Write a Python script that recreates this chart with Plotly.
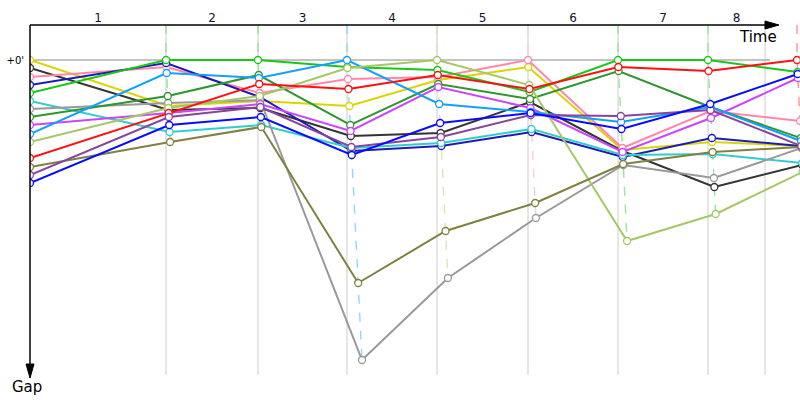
import plotly.graph_objects as go

# ---------------- data ----------------
# leader's elapsed time (s) at each lap passage
lap_times = [0, 2720, 4560, 6340, 8140, 9960, 11760, 13560, 15340]
now_time = 14700
lap_labels = ["1", "2", "3", "4", "5", "6", "7", "8"]

# gap to leader (s) at each lap passage
gap_yellow      = [0, 46, 41, 46, 20, 7, 90, 82, 86]
gap_black       = [8, 50, 48, 76, 73, 42, 91, 127, 105]
gap_pink        = [17, 7, 33, 19, 17, 0, 88, 51, 61]
gap_navy        = [25, 3, 37, 91, 86, 72, 97, 78, 86]
gap_green       = [33, 0, 0, 7, 10, 32, 0, 0, 12]
gap_teal        = [41, 72, 65, 88, 83, 69, 95, 94, 103]
gap_gray        = [49, 43, 40, 300, 218, 158, 105, 118, 88]
gap_forest      = [57, 36, 15, 65, 24, 39, 11, 47, 78]
gap_violet      = [65, 53, 44, 71, 27, 48, 92, 58, 18]
gap_lightblue   = [74, 13, 18, 0, 44, 52, 62, 47, 81]
gap_yellowgreen = [82, 48, 36, 8, 0, 25, 181, 154, 112]
gap_red         = [98, 53, 24, 29, 15, 29, 7, 11, 0]
gap_olive       = [107, 82, 67, 223, 171, 143, 104, 92, 87]
gap_purple      = [115, 57, 47, 87, 77, 55, 56, 50, 86]
gap_blue        = [123, 65, 57, 95, 63, 53, 69, 44, 14]

series = [
    ("Yellow", "#dcd400", gap_yellow),
    ("Black", "#333333", gap_black),
    ("Pink", "#ff88aa", gap_pink),
    ("Navy", "#1c1cb4", gap_navy),
    ("Green", "#18c818", gap_green),
    ("Teal", "#33cccc", gap_teal),
    ("Gray", "#999999", gap_gray),
    ("Forest", "#2e962e", gap_forest),
    ("Violet", "#cc44ff", gap_violet),
    ("LightBlue", "#11a0ff", gap_lightblue),
    ("YellowGreen", "#a4c864", gap_yellowgreen),
    ("Red", "#ff1010", gap_red),
    ("Olive", "#808040", gap_olive),
    ("Purple", "#88449c", gap_purple),
    ("Blue", "#0a0aff", gap_blue),
]


def lighten(hexcol, f=0.6):
    h = hexcol.lstrip("#")
    r, g, b = int(h[0:2], 16), int(h[2:4], 16), int(h[4:6], 16)
    r = int(r + (255 - r) * f)
    g = int(g + (255 - g) * f)
    b = int(b + (255 - b) * f)
    return f"rgb({r},{g},{b})"


def xs_of(gaps):
    return [lap_times[i] + (g if i > 0 else 0) for i, g in enumerate(gaps)]


X_MAX = 15400
Y_TOP = -35
Y_BOT = 315

fig = go.Figure()

# dashed "lap passage" lines in the (faded) colour of the leader
for i in range(1, len(lap_times)):
    col_gaps = [(s[2][i], s[1]) for s in series]
    leader_col = min(col_gaps, key=lambda t: t[0])[1]
    maxgap = max(t[0] for t in col_gaps)
    fig.add_trace(go.Scatter(
        x=[lap_times[i], lap_times[i], lap_times[i] + maxgap],
        y=[Y_TOP, 0, maxgap],
        mode="lines",
        line=dict(color=lighten(leader_col, 0.55), width=1.4, dash="dash"),
        hoverinfo="skip", showlegend=False,
    ))

for name, col, gaps in series:
    fig.add_trace(go.Scatter(
        x=xs_of(gaps), y=gaps, mode="lines+markers", name=name,
        line=dict(color=col, width=2),
        marker=dict(symbol="circle", size=7, color="white",
                    line=dict(color=col, width=1.3)),
        showlegend=False,
    ))

# grid lines (lap passages of the leader + current time)
grid_times = lap_times[1:8] + [now_time]
shapes = []
for t in grid_times:
    shapes.append(dict(type="line", xref="x", yref="paper", x0=t, x1=t, y0=0, y1=1,
                       line=dict(color="#cccccc", width=1), layer="below"))
# zero-gap reference line
shapes.append(dict(type="line", xref="x", yref="y", x0=0, x1=now_time + 100, y0=0, y1=0,
                   line=dict(color="#888888", width=1), layer="below"))


def px(xp):
    return (xp - 30) / 770.0


def py(yp):
    return (375 - yp) / 350.0


# axis lines with arrowheads
shapes.append(dict(type="line", xref="paper", yref="paper", x0=0, x1=px(768), y0=1, y1=1,
                   line=dict(color="black", width=1.5)))
shapes.append(dict(type="path", xref="paper", yref="paper",
                   path=f"M {px(765)},{py(21)} L {px(779)},{py(25)} L {px(765)},{py(29)} Z",
                   fillcolor="black", line=dict(color="black", width=1)))
shapes.append(dict(type="line", xref="paper", yref="paper", x0=0, x1=0, y0=1, y1=py(366),
                   line=dict(color="black", width=1.5)))
shapes.append(dict(type="path", xref="paper", yref="paper",
                   path=f"M {px(26)},{py(364)} L {px(30)},{py(378)} L {px(34)},{py(364)} Z",
                   fillcolor="black", line=dict(color="black", width=1)))

bounds = [0] + grid_times
mids = [(bounds[k] + bounds[k + 1]) / 2 for k in range(len(lap_labels))]

annotations = [
    dict(text="Time", xref="paper", yref="paper", x=px(779), y=py(26), xanchor="right",
         yanchor="top", showarrow=False, font=dict(size=15, color="black", family="DejaVu Sans")),
    dict(text="Gap", xref="paper", yref="paper", x=px(10), y=py(376), xanchor="left",
         yanchor="top", showarrow=False, font=dict(size=15, color="black", family="DejaVu Sans")),
]

fig.update_layout(
    width=800, height=400,
    margin=dict(l=30, r=0, t=25, b=25, autoexpand=False),
    paper_bgcolor="white", plot_bgcolor="white",
    font=dict(family="DejaVu Sans", color="black"),
    shapes=shapes, annotations=annotations,
    xaxis=dict(range=[0, X_MAX], side="top", showgrid=False, zeroline=False, showline=False,
               automargin=False,
               tickmode="array", tickvals=mids, ticktext=lap_labels, ticks="",
               tickfont=dict(size=12, color="#111133")),
    yaxis=dict(range=[Y_BOT, Y_TOP], showgrid=False, zeroline=False, showline=False,
               automargin=False, ticklabelstandoff=5,
               tickmode="array", tickvals=[0], ticktext=["+0'"], ticks="",
               tickfont=dict(size=10, color="black")),
)

fig.write_html("out.html", config={"displayModeBar": False},
               post_script="document.body.style.margin='0px';document.body.style.overflow='hidden';")
